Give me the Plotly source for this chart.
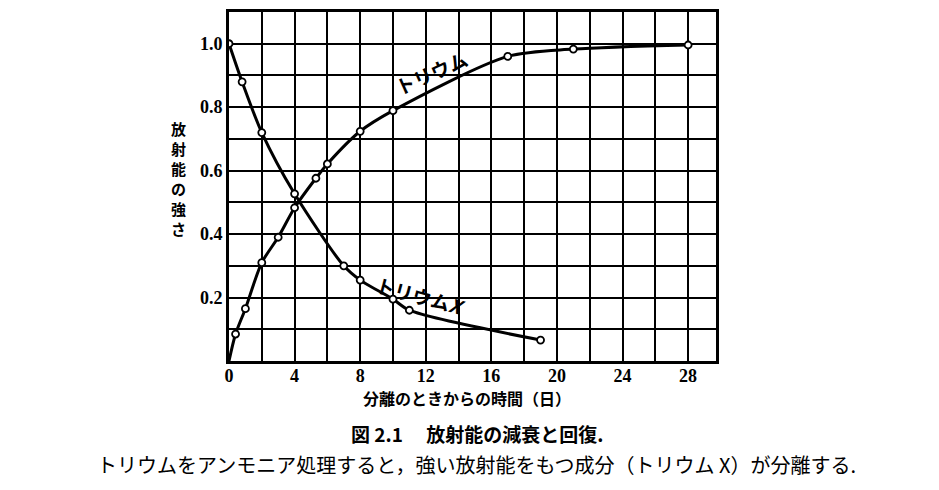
import plotly.graph_objects as go

# Thorium X (decay) data, days vs relative activity
thx_days = [0, 0.8, 2, 4, 7, 8, 10, 11, 19]
thx_act = [1.0, 0.88, 0.72, 0.527, 0.30, 0.255, 0.195, 0.16, 0.066]

# Thorium (recovery) data
th_days = [0.4, 1, 2, 3, 4, 5.3, 6, 8, 10, 17, 21, 28]
th_act = [0.085, 0.165, 0.31, 0.39, 0.483, 0.576, 0.621, 0.724, 0.789, 0.96, 0.983, 0.996]
th_start = (0, 0.0)

x_ticks = [0, 4, 8, 12, 16, 20, 24, 28]
y_ticks = [0.2, 0.4, 0.6, 0.8, 1.0]
y_tick_text = ["0.2", "0.4", "0.6", "0.8", "1.0"]

label_th = "トリウム"
label_thx = "トリウム<i>X</i>"
x_title = "分離のときからの時間（日）"
y_title = "放射能の強さ"
caption = "図 2.1　 放射能の減衰と回復."
note = "トリウムをアンモニア処理すると，強い放射能をもつ成分（トリウム X）が分離する."

JP = "Noto Sans CJK JP"
NUM = "Liberation Serif"

# plot area in page pixels (page has 8px body margin)
PL, PR, PT, PB = 229, 716, 9, 361


def px(xp):
    return (xp - PL) / (PR - PL)


def py(yp):
    return (PB - yp) / (PB - PT)


fig = go.Figure()
line_style = dict(color="black", width=3, shape="spline", smoothing=0.8)
marker_style = dict(symbol="circle", size=7, color="white", line=dict(color="black", width=1.8))

fig.add_trace(go.Scatter(x=thx_days, y=thx_act, mode="lines", line=line_style, hoverinfo="skip"))
fig.add_trace(go.Scatter(x=[th_start[0]] + th_days, y=[th_start[1]] + th_act, mode="lines",
                         line=line_style, hoverinfo="skip"))
fig.add_trace(go.Scatter(x=thx_days, y=thx_act, mode="markers", marker=marker_style))
fig.add_trace(go.Scatter(x=th_days, y=th_act, mode="markers", marker=marker_style))

fig.add_annotation(x=12.3, y=0.91, text=label_th, textangle=-24, showarrow=False,
                   xanchor="center", yanchor="middle",
                   font=dict(family=JP, size=19, color="black", weight="bold"))
fig.add_annotation(x=11.7, y=0.208, text=label_thx, textangle=15, showarrow=False,
                   xanchor="center", yanchor="middle",
                   font=dict(family=JP, size=19, color="black", weight="bold"))

# vertical (stacked) y-axis title, one character per row
for i, ch in enumerate(y_title):
    fig.add_annotation(xref="paper", yref="paper", x=px(178), y=py(127 + 20 * i),
                       xanchor="center", yanchor="middle", text=ch, showarrow=False,
                       borderpad=0,
                       font=dict(family=JP, size=15, color="black", weight="bold"))

fig.add_annotation(xref="paper", yref="paper", x=px(467), y=py(398), text=x_title,
                   xanchor="center", yanchor="middle",
                   showarrow=False, font=dict(family=JP, size=16, color="black", weight="bold"))
fig.add_annotation(xref="paper", yref="paper", x=px(477), y=py(434), text=caption,
                   xanchor="center", yanchor="middle",
                   showarrow=False, font=dict(family=JP, size=19, color="black", weight="bold"))
fig.add_annotation(xref="paper", yref="paper", x=px(476), y=py(465), text=note,
                   xanchor="center", yanchor="middle",
                   showarrow=False, font=dict(family=JP, size=20, color="black"))

grid = dict(showgrid=True, gridcolor="black", gridwidth=2)
fig.update_xaxes(range=[0, 29.7], tickvals=x_ticks, ticktext=[str(v) for v in x_ticks],
                 **grid, zeroline=False, showline=True, linecolor="black", linewidth=3, mirror=True,
                 minor=dict(dtick=2, tick0=0, showgrid=True, gridcolor="black", gridwidth=2),
                 ticklabelstandoff=-4,
                 tickfont=dict(family=NUM, size=18, color="black", weight="bold"))
fig.update_yaxes(range=[0, 1.1], tickvals=y_ticks, ticktext=y_tick_text,
                 **grid, zeroline=False, showline=True, linecolor="black", linewidth=3, mirror=True,
                 minor=dict(dtick=0.1, tick0=0, showgrid=True, gridcolor="black", gridwidth=2),
                 tickfont=dict(family=NUM, size=18, color="black", weight="bold"))

W, H = 923, 474
fig.update_layout(width=W, height=H, showlegend=False,
                  margin=dict(l=PL - 8, r=W - (PR - 8), t=PT - 8, b=H - (PB - 8)),
                  paper_bgcolor="white", plot_bgcolor="white")

fig.write_html("out.html")
